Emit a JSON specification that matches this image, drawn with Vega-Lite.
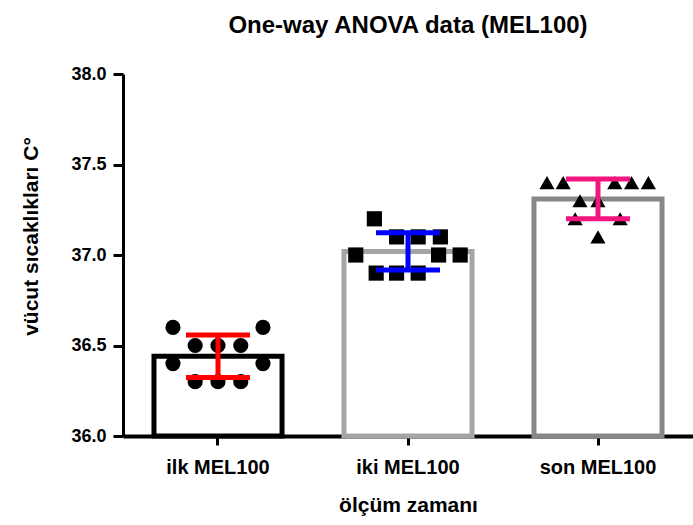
{
  "$schema": "https://vega.github.io/schema/vega-lite/v6.json",
  "width": 570,
  "height": 362,
  "autosize": {"type": "none"},
  "padding": {"left": 123, "top": 74, "right": 0, "bottom": 89},
  "background": "white",
  "title": {"text": "One-way ANOVA data (MEL100)", "fontSize": 24, "font": "Liberation Sans", "fontWeight": "bold", "anchor": "middle", "offset": 27, "color": "black"},
  "config": {"view": {"stroke": null}, "font": "Liberation Sans"},
  "resolve": {"scale": {"xOffset": "independent"}},
  "data": {
    "values": [
      {"group": "ilk MEL100", "value": 36.6, "jit": -0.75},
      {"group": "ilk MEL100", "value": 36.6, "jit": 0.75},
      {"group": "ilk MEL100", "value": 36.5, "jit": -0.38},
      {"group": "ilk MEL100", "value": 36.5, "jit": 0},
      {"group": "ilk MEL100", "value": 36.5, "jit": 0.38},
      {"group": "ilk MEL100", "value": 36.4, "jit": -0.75},
      {"group": "ilk MEL100", "value": 36.4, "jit": 0.75},
      {"group": "ilk MEL100", "value": 36.3, "jit": -0.38},
      {"group": "ilk MEL100", "value": 36.3, "jit": 0},
      {"group": "ilk MEL100", "value": 36.3, "jit": 0.38},
      {"group": "iki MEL100", "value": 37.2, "jit": -0.56},
      {"group": "iki MEL100", "value": 37.1, "jit": -0.19},
      {"group": "iki MEL100", "value": 37.1, "jit": 0.17},
      {"group": "iki MEL100", "value": 37.1, "jit": 0.54},
      {"group": "iki MEL100", "value": 37.0, "jit": -0.87},
      {"group": "iki MEL100", "value": 37.0, "jit": 0.51},
      {"group": "iki MEL100", "value": 37.0, "jit": 0.87},
      {"group": "iki MEL100", "value": 36.9, "jit": -0.53},
      {"group": "iki MEL100", "value": 36.9, "jit": -0.19},
      {"group": "iki MEL100", "value": 36.9, "jit": 0.17},
      {"group": "son MEL100", "value": 37.4, "jit": -0.85},
      {"group": "son MEL100", "value": 37.4, "jit": -0.58},
      {"group": "son MEL100", "value": 37.4, "jit": 0.28},
      {"group": "son MEL100", "value": 37.4, "jit": 0.56},
      {"group": "son MEL100", "value": 37.4, "jit": 0.84},
      {"group": "son MEL100", "value": 37.3, "jit": -0.3},
      {"group": "son MEL100", "value": 37.3, "jit": 0},
      {"group": "son MEL100", "value": 37.2, "jit": -0.38},
      {"group": "son MEL100", "value": 37.2, "jit": 0.37},
      {"group": "son MEL100", "value": 37.1, "jit": 0}
    ]
  },
  "encoding": {
    "x": {
      "field": "group",
      "type": "nominal",
      "sort": ["ilk MEL100", "iki MEL100", "son MEL100"],
      "scale": {"paddingInner": 0.326, "paddingOuter": 0.163},
      "axis": {
        "title": "ölçüm zamanı",
        "labelAngle": 0,
        "labelFont": "Liberation Sans",
        "labelFontSize": 20,
        "labelFontWeight": "bold",
        "labelColor": "black",
        "labelPadding": 12,
        "tickSize": 9,
        "tickWidth": 3,
        "tickColor": "black",
        "domainWidth": 4,
        "domainColor": "black",
        "titleFont": "Liberation Sans",
        "titleFontSize": 21,
        "titleFontWeight": "bold",
        "titleColor": "black",
        "titlePadding": 17
      }
    }
  },
  "layer": [
    {
      "mark": {"type": "bar", "fill": "white", "strokeWidth": 5},
      "encoding": {
        "y": {
          "aggregate": "mean",
          "field": "value",
          "type": "quantitative",
          "title": "vücut sıcaklıkları C°",
          "scale": {"domain": [36, 38], "zero": false, "nice": false},
          "axis": {
            "title": "vücut sıcaklıkları C°",
            "values": [36, 36.5, 37, 37.5, 38],
            "format": ".1f",
            "grid": false,
            "labelFlush": false,
            "labelFont": "Liberation Sans",
            "labelFontSize": 18,
            "labelFontWeight": "bold",
            "labelColor": "black",
            "labelPadding": 7,
            "tickSize": 10,
            "tickWidth": 3,
            "tickColor": "black",
            "domainWidth": 3,
            "domainColor": "black",
            "titleFont": "Liberation Sans",
            "titleFontSize": 21,
            "titleFontWeight": "bold",
            "titleColor": "black",
            "titlePadding": 29,
            "titleY": 162
          }
        },
        "y2": {"datum": 36},
        "stroke": {
          "field": "group",
          "type": "nominal",
          "scale": {"domain": ["ilk MEL100", "iki MEL100", "son MEL100"], "range": ["#000000", "#a5a5a5", "#888888"]},
          "legend": null
        }
      }
    },
    {
      "mark": {"type": "point", "filled": true, "color": "black", "opacity": 1, "size": 230},
      "encoding": {
        "y": {"field": "value", "type": "quantitative", "title": "vücut sıcaklıkları C°"},
        "xOffset": {"field": "jit", "type": "quantitative", "scale": {"domain": [-1, 1], "range": [4, 124]}},
        "shape": {
          "field": "group",
          "type": "nominal",
          "scale": {"domain": ["ilk MEL100", "iki MEL100", "son MEL100"], "range": ["circle", "square", "triangle-up"]},
          "legend": null
        }
      }
    },
    {
      "mark": {"type": "errorbar", "extent": "stdev", "thickness": 5, "opacity": 1, "ticks": {"size": 64, "thickness": 5, "opacity": 1}, "rule": {"strokeWidth": 5, "opacity": 1}},
      "encoding": {
        "y": {"field": "value", "type": "quantitative", "title": "vücut sıcaklıkları C°"},
        "color": {
          "field": "group",
          "type": "nominal",
          "scale": {"domain": ["ilk MEL100", "iki MEL100", "son MEL100"], "range": ["#ff0000", "#0000ff", "#f0157f"]},
          "legend": null
        }
      }
    }
  ]
}
